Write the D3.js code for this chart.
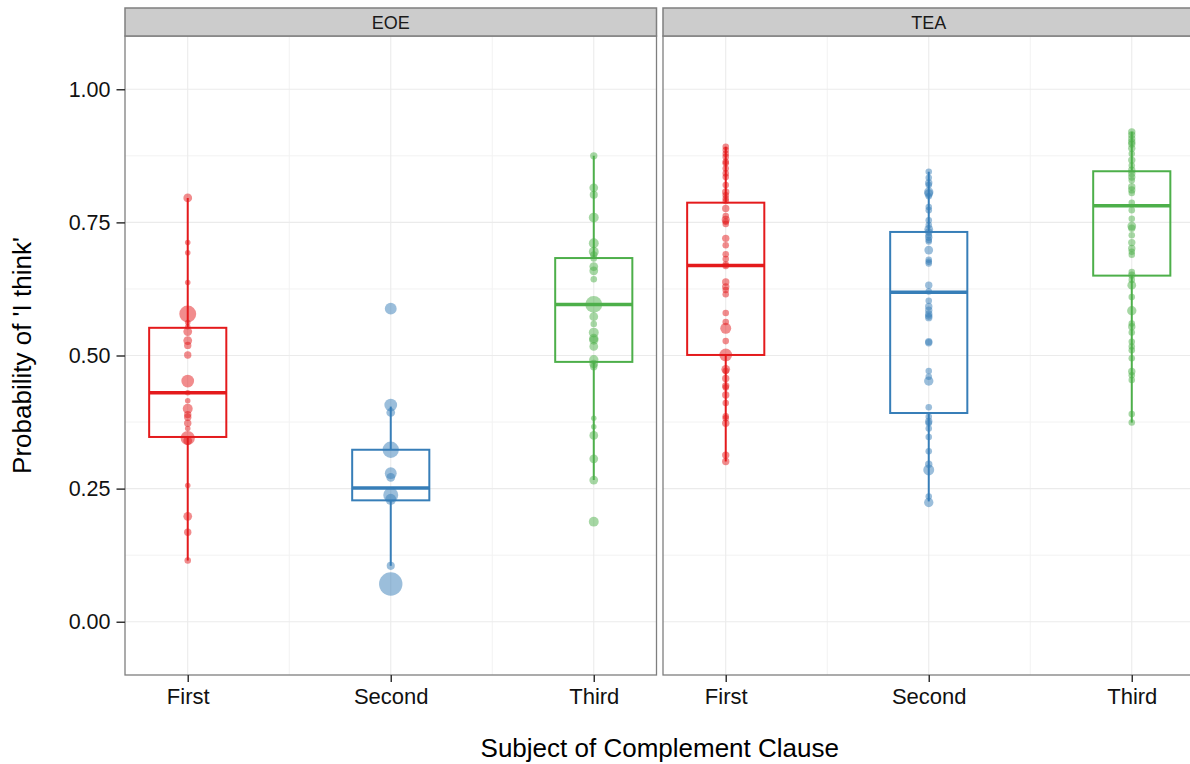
<!DOCTYPE html>
<html>
<head>
<meta charset="utf-8">
<script src="https://cdnjs.cloudflare.com/ajax/libs/d3/7.8.5/d3.min.js"></script>
<style>
  html, body { margin: 0; padding: 0; background: #ffffff; }
  svg { display: block; font-family: "Liberation Sans", Arial, sans-serif; }
</style>
</head>
<body>
<svg id="chart" width="1190" height="764"></svg>
<script>
// ---------------- data ----------------
const panels = ["EOE", "TEA"];
const categories = ["First", "Second", "Third"];
const colors = ["#E41A1C", "#377EB8", "#4DAF4A"];
const yTicks = [0, 0.25, 0.5, 0.75, 1.0];
const yMinorTicks = [0.125, 0.375, 0.625, 0.875];

// points: value + weight (size aesthetic)
const eoeFirstValues  = [0.796, 0.712, 0.693, 0.637, 0.578, 0.562, 0.554, 0.545, 0.528, 0.519, 0.501, 0.452, 0.430, 0.415, 0.400, 0.389, 0.384, 0.373, 0.363, 0.345, 0.340, 0.256, 0.198, 0.168, 0.115];
const eoeFirstWeights = [3, 1, 1, 1, 13, 1, 1, 3, 3, 2, 2, 7, 1, 1, 4, 2, 2, 2, 1, 9, 3, 1, 3, 2, 1.5];

const eoeSecondValues  = [0.588, 0.407, 0.393, 0.323, 0.279, 0.271, 0.238, 0.230, 0.105, 0.071];
const eoeSecondWeights = [6, 7, 3, 12, 6, 3, 10, 5, 2.5, 26];

const eoeThirdValues  = [0.875, 0.815, 0.802, 0.759, 0.711, 0.695, 0.689, 0.682, 0.667, 0.659, 0.643, 0.596, 0.573, 0.559, 0.543, 0.532, 0.529, 0.517, 0.492, 0.484, 0.479, 0.382, 0.366, 0.350, 0.306, 0.266, 0.188];
const eoeThirdWeights = [2, 3, 2.5, 4, 4, 4, 2, 1.5, 3, 3, 1.5, 13, 3, 1.5, 4, 3.5, 3.5, 3, 3.5, 3, 2, 1, 1, 3, 3, 3, 4];

const teaFirstValues  = [0.892, 0.886, 0.879, 0.873, 0.864, 0.861, 0.851, 0.842, 0.835, 0.820, 0.807, 0.801, 0.795, 0.790, 0.776, 0.762, 0.755, 0.751, 0.747, 0.720, 0.707, 0.690, 0.681, 0.671, 0.668, 0.638, 0.629, 0.623, 0.615, 0.580, 0.563, 0.551, 0.527, 0.501, 0.474, 0.471, 0.457, 0.443, 0.440, 0.426, 0.411, 0.386, 0.382, 0.373, 0.313, 0.301];
const teaFirstWeights = [1.5, 1.5, 1.5, 1.5, 1.5, 1.5, 1.5, 1.5, 1.5, 1.5, 2, 1.5, 1.5, 1.5, 2, 1.5, 2.5, 1.5, 1.5, 2, 1.5, 1.5, 1.5, 1.5, 1.5, 2, 2, 1.5, 1.5, 1.5, 1.5, 5, 1.5, 7, 3, 1.5, 2, 2, 1.5, 2, 1.5, 1.5, 1.5, 2, 2, 2];

const teaSecondValues  = [0.845, 0.834, 0.824, 0.820, 0.807, 0.804, 0.799, 0.779, 0.773, 0.754, 0.745, 0.737, 0.732, 0.726, 0.722, 0.717, 0.714, 0.698, 0.680, 0.676, 0.673, 0.632, 0.620, 0.603, 0.592, 0.585, 0.578, 0.574, 0.571, 0.526, 0.524, 0.471, 0.460, 0.452, 0.403, 0.385, 0.376, 0.373, 0.363, 0.347, 0.320, 0.296, 0.285, 0.235, 0.224];
const teaSecondWeights = [1.5, 1.5, 2, 1.5, 3.5, 3, 1.5, 1.5, 1.5, 1.5, 1.5, 3, 2, 1.5, 2, 1.5, 1.5, 3, 1.5, 1.5, 1.5, 2, 1.5, 1.5, 2, 2, 2, 2, 2, 2, 2, 1.5, 1.5, 3.5, 1.5, 1.5, 2, 1.5, 1.5, 1.5, 1.5, 2, 5, 1.5, 3.5];

const teaThirdValues  = [0.920, 0.914, 0.907, 0.901, 0.897, 0.889, 0.879, 0.867, 0.857, 0.848, 0.842, 0.835, 0.829, 0.817, 0.811, 0.805, 0.787, 0.773, 0.757, 0.743, 0.739, 0.726, 0.712, 0.701, 0.695, 0.689, 0.657, 0.651, 0.642, 0.632, 0.610, 0.584, 0.560, 0.554, 0.543, 0.526, 0.517, 0.510, 0.495, 0.470, 0.463, 0.454, 0.390, 0.374];
const teaThirdWeights = [2, 2, 2, 2, 2, 2, 1.5, 2, 1.5, 2, 2, 2, 1.5, 2, 2, 1.5, 1.5, 1.5, 1.5, 3, 2, 1.5, 2, 2, 1.5, 1.5, 1.5, 2, 1.5, 3, 1.5, 3.5, 1.5, 2, 1.5, 1.5, 1.5, 1.5, 1.5, 2, 1.5, 1.5, 1.5, 1.5];

// box statistics (panel order EOE First, Second, Third, TEA First, Second, Third)
const boxLower  = [0.115, 0.105, 0.266, 0.301, 0.226, 0.374];
const boxQ1     = [0.347, 0.228, 0.488, 0.501, 0.392, 0.650];
const boxMedian = [0.430, 0.251, 0.596, 0.669, 0.619, 0.781];
const boxQ3     = [0.552, 0.323, 0.683, 0.787, 0.732, 0.846];
const boxUpper  = [0.796, 0.404, 0.875, 0.892, 0.845, 0.920];

const pointSets = [
  [eoeFirstValues, eoeFirstWeights], [eoeSecondValues, eoeSecondWeights], [eoeThirdValues, eoeThirdWeights],
  [teaFirstValues, teaFirstWeights], [teaSecondValues, teaSecondWeights], [teaThirdValues, teaThirdWeights]
];

// ---------------- layout ----------------
const svg = d3.select("#chart");
const panelTop = 36, panelBottom = 675, stripTop = 8;
const panelLefts = [125, 663];
const panelWidth = 531.5;

const y = d3.scaleLinear().domain([-0.1, 1.1]).range([panelBottom, panelTop]);
const r = d3.scaleSqrt().domain([0, 26]).range([0.6, 11.7]);
const gridColor = "#ebebeb";
const borderColor = "#7f7f7f";

panels.forEach((panel, pi) => {
  const left = panelLefts[pi];
  const x = d3.scalePoint().domain(categories).range([left, left + panelWidth]).padding(0.309);
  const step = x.step();
  const g = svg.append("g");
  const clipId = "clip" + pi;
  svg.append("clipPath").attr("id", clipId).append("rect")
    .attr("x", left).attr("y", panelTop).attr("width", panelWidth).attr("height", panelBottom - panelTop);
  const inner = g.append("g").attr("clip-path", `url(#${clipId})`);

  // minor grid
  inner.selectAll(".ymin").data(yMinorTicks).join("line")
    .attr("x1", left).attr("x2", left + panelWidth)
    .attr("y1", d => y(d)).attr("y2", d => y(d))
    .attr("stroke", "#f2f2f2").attr("stroke-width", 1);
  const xMinor = categories.slice(1).map((c, i) => (x(categories[i]) + x(c)) / 2);
  inner.selectAll(".xmin").data(xMinor).join("line")
    .attr("x1", d => d).attr("x2", d => d)
    .attr("y1", panelTop).attr("y2", panelBottom)
    .attr("stroke", "#f2f2f2").attr("stroke-width", 1);
  // major grid
  inner.selectAll(".ymaj").data(yTicks).join("line")
    .attr("x1", left).attr("x2", left + panelWidth)
    .attr("y1", d => y(d)).attr("y2", d => y(d))
    .attr("stroke", gridColor).attr("stroke-width", 1.1);
  inner.selectAll(".xmaj").data(categories).join("line")
    .attr("x1", d => x(d)).attr("x2", d => x(d))
    .attr("y1", panelTop).attr("y2", panelBottom)
    .attr("stroke", gridColor).attr("stroke-width", 1.1);

  // boxplots
  categories.forEach((cat, ci) => {
    const k = pi * 3 + ci;
    const cx = x(cat);
    const hw = step * 0.19;
    const col = colors[ci];
    const bg = inner.append("g");
    bg.append("line").attr("x1", cx).attr("x2", cx)
      .attr("y1", y(boxQ3[k])).attr("y2", y(boxUpper[k]))
      .attr("stroke", col).attr("stroke-width", 2);
    bg.append("line").attr("x1", cx).attr("x2", cx)
      .attr("y1", y(boxQ1[k])).attr("y2", y(boxLower[k]))
      .attr("stroke", col).attr("stroke-width", 2);
    bg.append("rect").attr("x", cx - hw).attr("y", y(boxQ3[k]))
      .attr("width", hw * 2).attr("height", y(boxQ1[k]) - y(boxQ3[k]))
      .attr("fill", "none").attr("stroke", col).attr("stroke-width", 2);
    bg.append("line").attr("x1", cx - hw).attr("x2", cx + hw)
      .attr("y1", y(boxMedian[k])).attr("y2", y(boxMedian[k]))
      .attr("stroke", col).attr("stroke-width", 3.5);

    // points
    const [vals, wts] = pointSets[k];
    const pts = vals.map((v, i) => ({ v, w: wts[i] }));
    inner.append("g").selectAll("circle").data(pts).join("circle")
      .attr("cx", cx).attr("cy", d => y(d.v)).attr("r", d => r(d.w))
      .attr("fill", col).attr("fill-opacity", 0.5);
  });

  // panel border
  g.append("rect").attr("x", left).attr("y", panelTop)
    .attr("width", panelWidth).attr("height", panelBottom - panelTop)
    .attr("fill", "none").attr("stroke", borderColor).attr("stroke-width", 1.3);

  // strip
  g.append("rect").attr("x", left).attr("y", stripTop)
    .attr("width", panelWidth).attr("height", panelTop - stripTop)
    .attr("fill", "#cccccc").attr("stroke", borderColor).attr("stroke-width", 1.5);
  g.append("text").attr("x", left + panelWidth / 2).attr("y", (stripTop + panelTop) / 2 + 6.5)
    .attr("text-anchor", "middle").attr("font-size", 18).attr("fill", "#1a1a1a").text(panel);

  // x axis
  const xAxis = d3.axisBottom(x).tickSize(7).tickPadding(6);
  const xg = svg.append("g").attr("transform", `translate(0,${panelBottom})`).call(xAxis);
  xg.select(".domain").remove();
  xg.selectAll(".tick line").attr("stroke", "#333").attr("stroke-width", 1.5);
  xg.selectAll(".tick text").attr("font-size", 22).attr("fill", "#111")
    .attr("font-family", "Liberation Sans, Arial, sans-serif");
});

// y axis
const yAxis = d3.axisLeft(y).tickValues(yTicks).tickFormat(d3.format(".2f")).tickSize(8.5).tickPadding(6);
const yg = svg.append("g").attr("transform", `translate(${panelLefts[0]},0)`).call(yAxis);
yg.select(".domain").remove();
yg.selectAll(".tick line").attr("stroke", "#333").attr("stroke-width", 1.5);
yg.selectAll(".tick text").attr("font-size", 21.5).attr("fill", "#111")
  .attr("font-family", "Liberation Sans, Arial, sans-serif");

// axis titles
svg.append("text").attr("x", (panelLefts[0] + panelLefts[1] + panelWidth) / 2).attr("y", 757)
  .attr("text-anchor", "middle").attr("font-size", 26).attr("fill", "#000")
  .text("Subject of Complement Clause");
svg.append("text").attr("transform", `translate(31,${(panelTop + panelBottom) / 2}) rotate(-90)`)
  .attr("text-anchor", "middle").attr("font-size", 26).attr("fill", "#000")
  .text("Probability of 'I think'");
</script>
</body>
</html>
